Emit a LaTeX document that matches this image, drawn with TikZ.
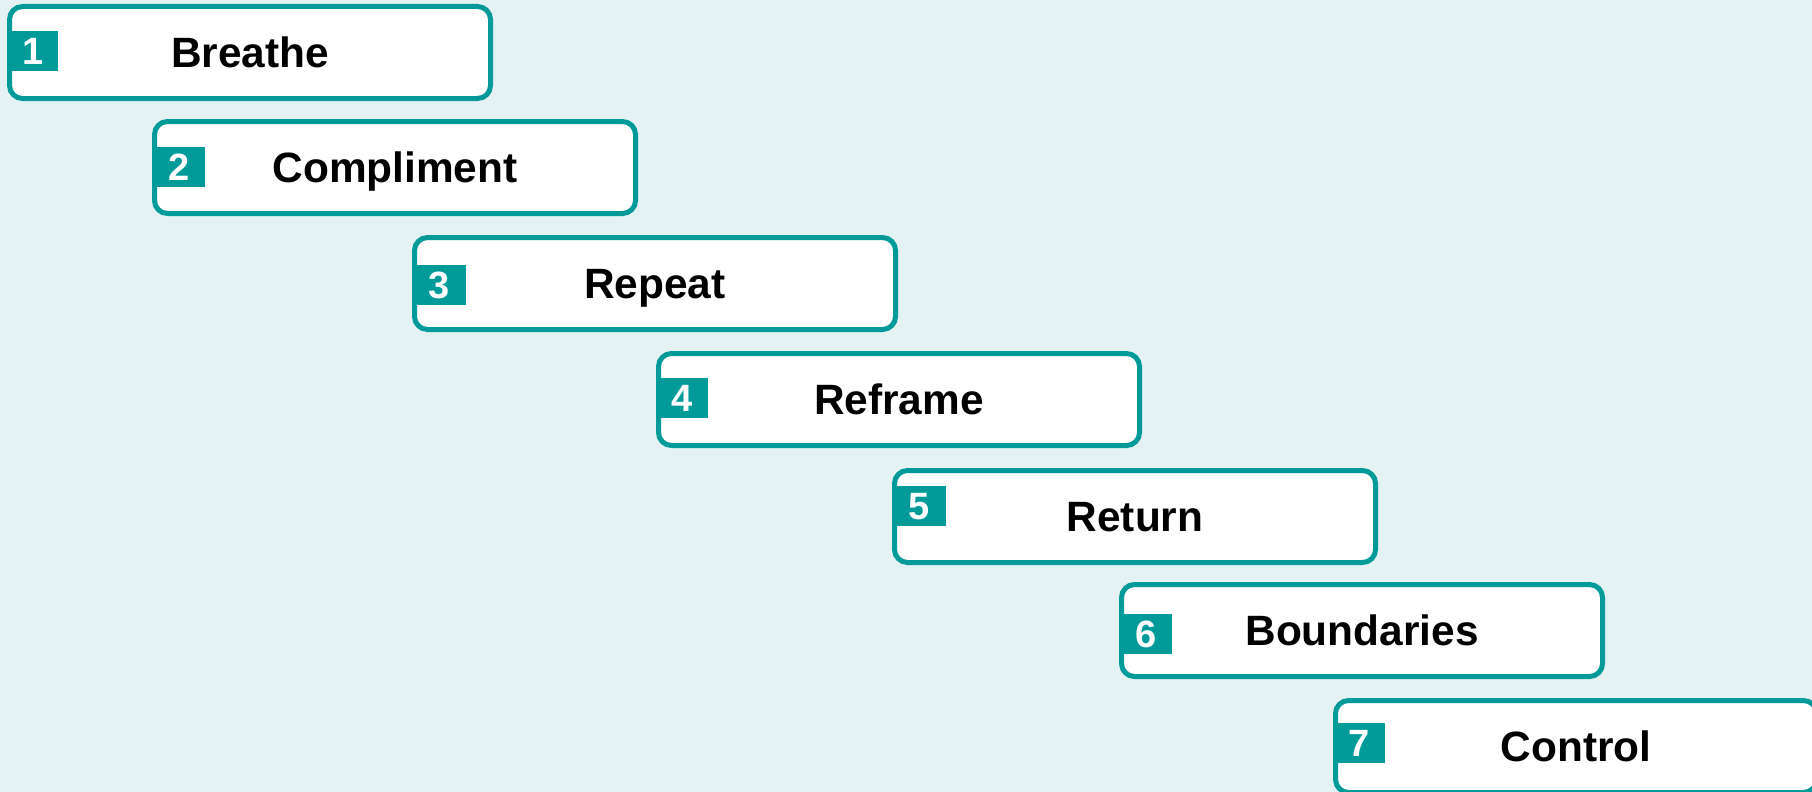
\documentclass[tikz,border=0pt]{standalone}
\usepackage{fontspec}
\setmainfont{Liberation Sans}
\definecolor{teal}{RGB}{0,155,152}
\definecolor{paper}{RGB}{228,242,243}
\tikzset{
  stepbox/.style={draw=teal, fill=white, line width=5pt, rounded corners=13pt,
    minimum width=481pt, minimum height=92pt, inner sep=0pt,
    font=\bfseries\fontsize{42.4}{50}\selectfont, text height=30.5pt, text depth=0pt},
  badge/.style={fill=teal, draw=none, anchor=north west, minimum height=40pt,
    inner sep=0pt, text=white,
    font=\bfseries\fontsize{38}{44}\selectfont, text height=27pt, text depth=0pt}
}
\begin{document}
\begin{tikzpicture}[x=1pt, y=-1pt]
  \useasboundingbox (0,0) rectangle (1812,792);
  \fill[paper] (0,0) rectangle (1812,792);
  \clip (0,0) rectangle (1812,792);
  % step boxes, each stepped down and to the right
  \node[stepbox] (b1) at (250,52.5)   {Breathe};
  \node[badge, minimum width=51pt] (n1) at (7,31)    {1};
  \node[stepbox] (b2) at (395,167.5)  {Compliment};
  \node[badge, minimum width=53pt] (n2) at (152,147) {2};
  \node[stepbox] (b3) at (655,283.5)  {Repeat};
  \node[badge, minimum width=54pt] (n3) at (412,265) {3};
  \node[stepbox] (b4) at (899,399.5)  {Reframe};
  \node[badge, minimum width=52pt] (n4) at (656,378) {4};
  \node[stepbox] (b5) at (1135,516.5) {Return};
  \node[badge, minimum width=54pt] (n5) at (892,486) {5};
  \node[stepbox] (b6) at (1362,630.5) {Boundaries};
  \node[badge, minimum width=53pt] (n6) at (1119,614) {6};
  \node[stepbox] (b7) at (1576,746.5) {Control};
  \node[badge, minimum width=52pt] (n7) at (1333,723) {7};
\end{tikzpicture}
\end{document}
